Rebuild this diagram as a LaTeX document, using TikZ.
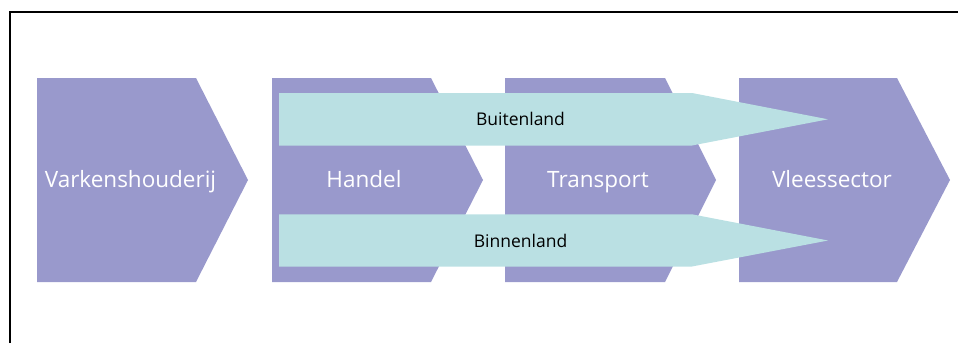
\documentclass[tikz,border=0pt]{standalone}
\usepackage{fontspec}
\setmainfont{Open Sans}
\definecolor{chev}{RGB}{153,153,204}
\definecolor{flow}{RGB}{186,224,227}
\begin{document}
\begin{tikzpicture}[x=1pt,y=-1pt,
  chevshape/.style={fill=chev,draw=none},
  flowshape/.style={fill=flow,draw=none},
  chevlabel/.style={text=white,font=\fontsize{22.5}{26}\selectfont,anchor=base,inner sep=0pt},
  flowlabel/.style={text=black,font=\fontsize{17.5}{20}\selectfont,anchor=base,inner sep=0pt},
  frameline/.style={draw=black,line width=2pt}]
\useasboundingbox (0,0) rectangle (958,343);
\draw[frameline] (10,343) -- (10,12) -- (958,12);
% chevrons
\fill[chevshape] (37,78) -- (196,78) -- (248,180) -- (196,282) -- (37,282) -- cycle;
\fill[chevshape] (272,78) -- (431,78) -- (483,180) -- (431,282) -- (272,282) -- cycle;
\fill[chevshape] (505,78) -- (665,78) -- (716,180) -- (665,282) -- (505,282) -- cycle;
\fill[chevshape] (739,78) -- (897,78) -- (950,180) -- (897,282) -- (739,282) -- cycle;
% flows
\fill[flowshape] (279,93) -- (692,93) -- (828,119.3) -- (692,145.5) -- (279,145.5) -- cycle;
\fill[flowshape] (279,214.3) -- (692,214.3) -- (828,240.5) -- (692,266.5) -- (279,266.5) -- cycle;
% labels
\node[chevlabel] (varken) at (130.5,187.3) {Varkenshouderij};
\node[chevlabel] (handel) at (364,187.3) {Handel};
\node[chevlabel] (transport) at (598,187.3) {Transport};
\node[chevlabel] (vlees) at (832,187.3) {Vleessector};
\node[flowlabel] (buiten) at (520.5,125.7) {Buitenland};
\node[flowlabel] (binnen) at (520.5,247) {Binnenland};
\end{tikzpicture}
\end{document}
